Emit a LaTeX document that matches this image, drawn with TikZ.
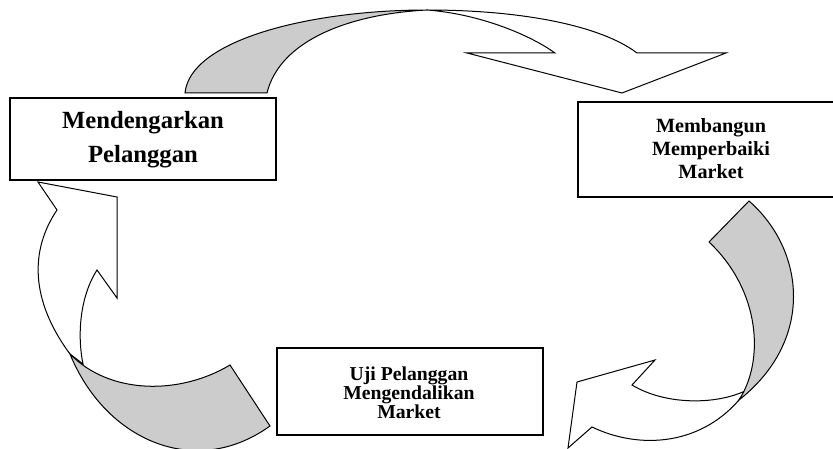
\documentclass[tikz,border=0pt]{standalone}
\usepackage{fontspec}
\setmainfont{Liberation Serif}
\begin{document}
\begin{tikzpicture}[x=1pt,y=-1pt,
  arrowline/.style={draw=black, line width=1pt, line join=miter},
  backside/.style={arrowline, fill=black!20},
  frontside/.style={arrowline, fill=white},
  stagebox/.style={draw=black, line width=1.2pt, minimum width=266pt, inner sep=0pt, fill=white},
  stagetext/.style={align=center, inner sep=0pt}]
\clip (0,0) rectangle (833,449);
% boxes
\node[stagebox, minimum height=82pt] (listen) at (143,139) {};
\node[stagetext, font=\fontsize{24.7}{34}\selectfont\bfseries] (listenlabel) at (143,140) {Mendengarkan\\Pelanggan};
\node[stagebox, minimum height=95pt] (build) at (711,149.5) {};
\node[stagetext, font=\fontsize{20.2}{23}\selectfont\bfseries] (buildlabel) at (711,149) {Membangun\\Memperbaiki\\Market};
\node[stagebox, minimum height=87pt] (test) at (410,391.5) {};
\node[stagetext, font=\fontsize{19.7}{18.8}\selectfont\bfseries] (testlabel) at (409,393) {Uji Pelanggan\\Mengendalikan\\Market};
% top arrow
\path[backside] (185,93) .. controls (190,40) and (310,10) .. (427,10)
  .. controls (350,14) and (280,40) .. (267,93) -- cycle;
\path[frontside] (427,10) .. controls (520,10) and (600,25) .. (637,53)
  -- (726,53) -- (622,93) -- (467,53) -- (555,53)
  .. controls (530,35) and (480,14) .. (427,10) -- cycle;
% right arrow
\path[frontside] (739,400) .. controls (700,445) and (640,450) .. (592,427)
  -- (568,448) -- (577,382) -- (655,360) -- (632,385)
  .. controls (665,405) and (715,405) .. (745,391) -- cycle;
\path[backside] (749,201) .. controls (805,250) and (815,340) .. (739,400)
  .. controls (765,360) and (760,290) .. (709,242) -- cycle;
% left arrow
\path[frontside] (70,354) .. controls (30,300) and (30,250) .. (57,210)
  -- (38,182) -- (117,197) -- (117,298) -- (97,270)
  .. controls (78,300) and (78,340) .. (83,364) -- cycle;
\path[backside] (70,354) .. controls (105,440) and (195,480) .. (270,426)
  -- (230,365) .. controls (180,395) and (110,395) .. (70,354) -- cycle;
\end{tikzpicture}
\end{document}
